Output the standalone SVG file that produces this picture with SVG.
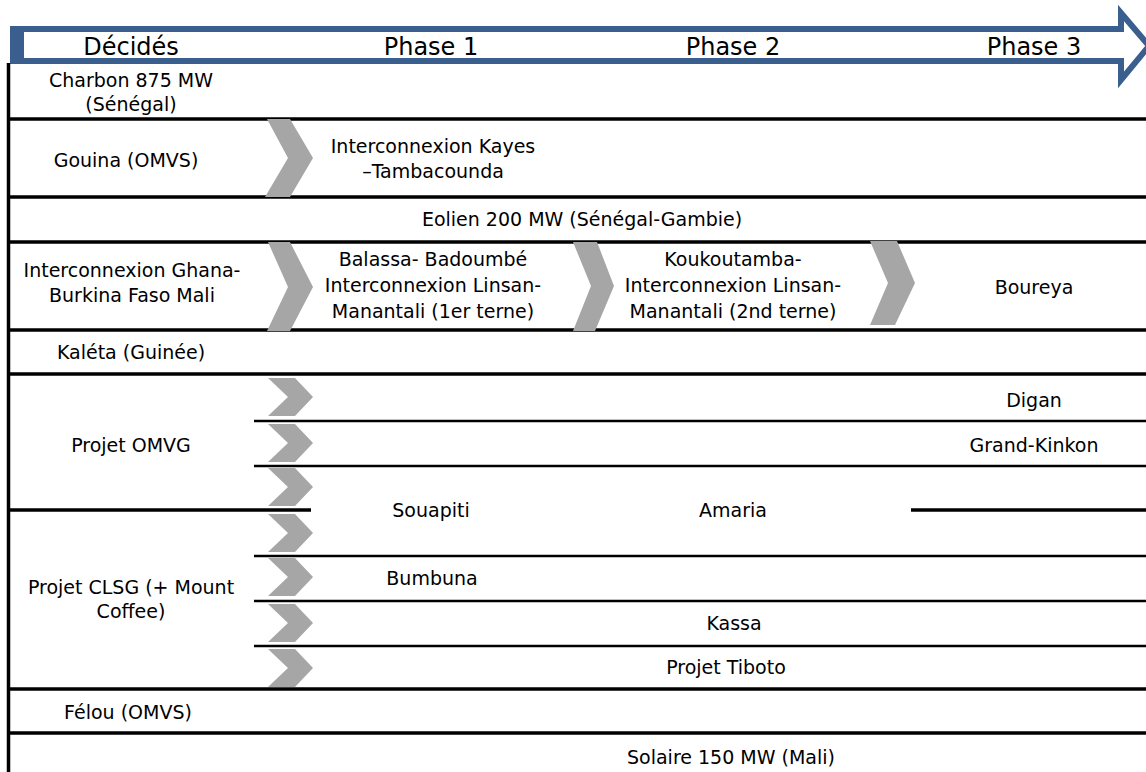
<svg xmlns="http://www.w3.org/2000/svg" width="1146" height="772" viewBox="0 0 1146 772">
<style>
text{font-family:"DejaVu Sans","Verdana",sans-serif;font-size:19px;fill:#000;text-anchor:middle}
.hd{font-size:24px}
.main{stroke:#000;stroke-width:3.5;fill:none}
.sub{stroke:#000;stroke-width:2.5;fill:none}
.chev{fill:#A6A6A6}
</style>
<rect x="0" y="0" width="1146" height="772" fill="#fff"/>
<g id="header">
<polygon points="13,29 1121,29 1121,13 1149,46 1121,80 1121,61 13,61" fill="#fff" stroke="#3A5F8F" stroke-width="6"/>
<rect x="10" y="26" width="14" height="38" fill="#3A5F8F"/>
<text class="hd" x="131" y="55">Décidés</text>
<text class="hd" x="431" y="55">Phase 1</text>
<text class="hd" x="733" y="55">Phase 2</text>
<text class="hd" x="1034" y="55">Phase 3</text>
</g>
<g id="connectors">
<line class="main" x1="8.5" y1="63" x2="8.5" y2="772" stroke-width="2.5"/>
<line class="main" x1="7" y1="119" x2="1146" y2="119"/>
<line class="main" x1="7" y1="197" x2="1146" y2="197"/>
<line class="main" x1="7" y1="242" x2="1146" y2="242"/>
<line class="main" x1="7" y1="330" x2="1146" y2="330"/>
<line class="main" x1="7" y1="374" x2="1146" y2="374"/>
<line class="sub" x1="254" y1="421" x2="1146" y2="421"/>
<line class="sub" x1="254" y1="466" x2="1146" y2="466"/>
<line class="main" x1="7" y1="510" x2="311" y2="510"/>
<line class="main" x1="911" y1="510" x2="1146" y2="510"/>
<line class="sub" x1="254" y1="556" x2="1146" y2="556"/>
<line class="sub" x1="254" y1="601" x2="1146" y2="601"/>
<line class="sub" x1="254" y1="646" x2="1146" y2="646"/>
<line class="main" x1="7" y1="689" x2="1146" y2="689"/>
<line class="main" x1="7" y1="733" x2="1146" y2="733"/>
<polygon class="chev" points="267,119 290,119 313,158 290,197 265,197 288,158"/>
<polygon class="chev" points="268,242 290,242 313,287 290,331 267,331 288,287"/>
<polygon class="chev" points="573,242 597,242 614,286 595,331 573,331 591,286"/>
<polygon class="chev" points="870,241 897,241 915,283 895,325 870,325 888,283"/>
<polygon class="chev" points="268,378 295,378 313,397 295,416 268,416 288,397"/>
<polygon class="chev" points="268,424 295,424 313,443 295,462 268,462 288,443"/>
<polygon class="chev" points="268,468 295,468 313,487 295,506 268,506 288,487"/>
<polygon class="chev" points="268,514 295,514 313,533 295,552 268,552 288,533"/>
<polygon class="chev" points="268,558 295,558 313,577 295,596 268,596 288,577"/>
<polygon class="chev" points="268,604 295,604 313,623 295,642 268,642 288,623"/>
<polygon class="chev" points="268,649 295,649 313,668 295,687 268,687 288,668"/>
</g>
<g id="n-charbon"><text x="131" y="87">Charbon 875 MW</text><text x="131" y="111">(Sénégal)</text></g>
<g id="n-gouina"><text x="126" y="167">Gouina (OMVS)</text></g>
<g id="n-kayes"><text x="433" y="153">Interconnexion Kayes</text><text x="433" y="178">–Tambacounda</text></g>
<g id="n-eolien"><text x="582" y="226">Eolien 200 MW (Sénégal-Gambie)</text></g>
<g id="n-ghana"><text x="132" y="277">Interconnexion Ghana-</text><text x="132" y="302">Burkina Faso Mali</text></g>
<g id="n-balassa"><text x="433" y="266">Balassa- Badoumbé</text><text x="433" y="292">Interconnexion Linsan-</text><text x="433" y="318">Manantali (1er terne)</text></g>
<g id="n-koukoutamba"><text x="733" y="266">Koukoutamba-</text><text x="733" y="292">Interconnexion Linsan-</text><text x="733" y="318">Manantali (2nd terne)</text></g>
<g id="n-boureya"><text x="1034" y="294">Boureya</text></g>
<g id="n-kaleta"><text x="131" y="359">Kaléta (Guinée)</text></g>
<g id="n-omvg"><text x="131" y="452">Projet OMVG</text></g>
<g id="n-digan"><text x="1034" y="407">Digan</text></g>
<g id="n-grandkinkon"><text x="1034" y="452">Grand-Kinkon</text></g>
<g id="n-souapiti"><text x="431" y="517">Souapiti</text></g>
<g id="n-amaria"><text x="733" y="517">Amaria</text></g>
<g id="n-clsg"><text x="131" y="594">Projet CLSG (+ Mount</text><text x="131" y="618">Coffee)</text></g>
<g id="n-bumbuna"><text x="432" y="585">Bumbuna</text></g>
<g id="n-kassa"><text x="734" y="630">Kassa</text></g>
<g id="n-tiboto"><text x="726" y="674">Projet Tiboto</text></g>
<g id="n-felou"><text x="128" y="719">Félou (OMVS)</text></g>
<g id="n-solaire"><text x="731" y="764">Solaire 150 MW (Mali)</text></g>
</svg>
